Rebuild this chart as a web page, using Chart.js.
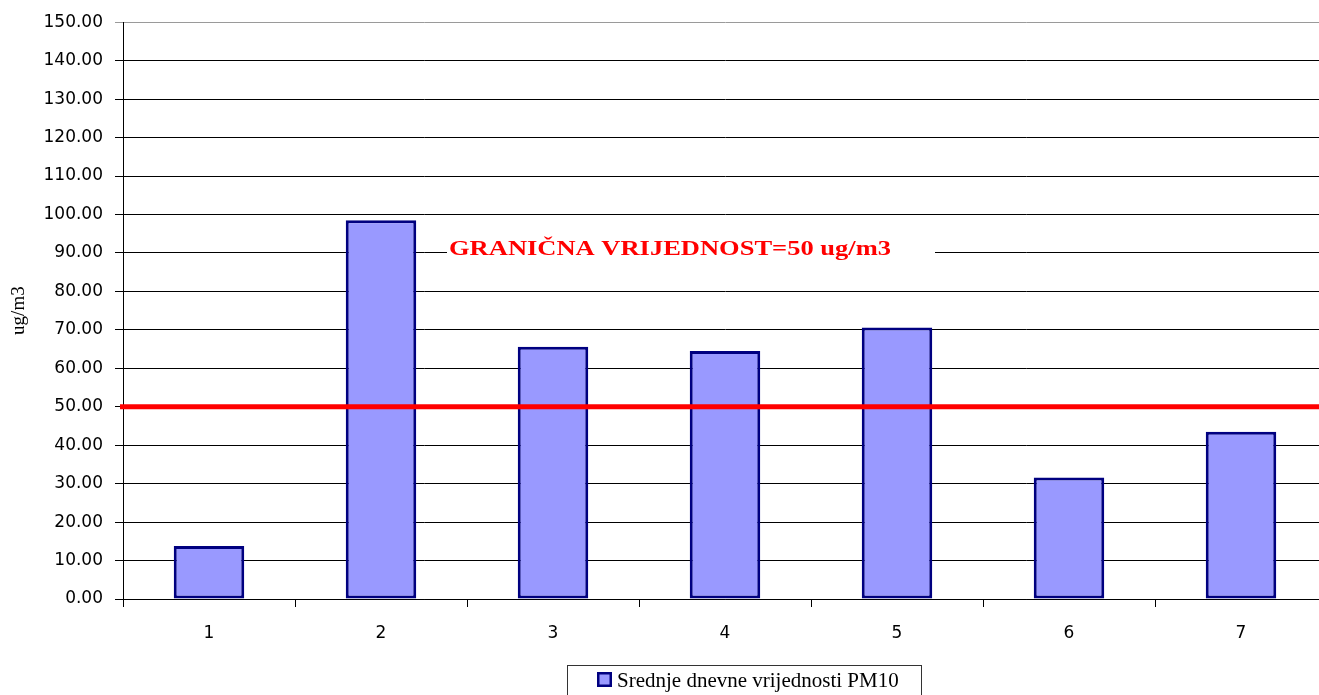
<!DOCTYPE html>
<html>
<head>
<meta charset="utf-8">
<script src="https://cdn.jsdelivr.net/npm/chart.js@4/dist/chart.umd.min.js"></script>
<style>
  html, body { margin: 0; padding: 0; background: #fff; overflow: hidden; }
  #wrap { width: 1319px; height: 695px; overflow: hidden; position: relative; }
  canvas { position: absolute; left: 0; top: 0; }
</style>
</head>
<body>
<div id="wrap"><canvas id="c" width="1330" height="712" style="width:1330px;height:712px"></canvas></div>
<script>
// ---- data ----
const categories = ['1', '2', '3', '4', '5', '6', '7'];
const pm10Values = [13.8, 98.5, 65.6, 64.5, 70.6, 31.6, 43.5];
const seriesLabel = 'Srednje dnevne vrijednosti PM10';
const limitValue = 50;
const limitLabel = 'GRANIČNA VRIJEDNOST=50 ug/m3';
const yAxisTitle = 'ug/m3';
const yMin = 0, yMax = 150, yStep = 10;

const SERIF = '"Liberation Serif", "Times New Roman", serif';
const SANS = '"DejaVu Sans", Verdana, sans-serif';

const limitPlugin = {
  id: 'limitLine',
  afterDatasetsDraw(chart) {
    const { ctx, chartArea, scales } = chart;
    const y = scales.y.getPixelForValue(limitValue);
    ctx.save();
    ctx.strokeStyle = '#FF0000';
    ctx.lineWidth = 5;
    ctx.beginPath();
    ctx.moveTo(chartArea.left - 3, y);
    ctx.lineTo(chartArea.right, y);
    ctx.stroke();

    // annotation label sitting on the 90 gridline
    const yLab = scales.y.getPixelForValue(90);
    ctx.fillStyle = '#FFFFFF';
    ctx.fillRect(447, yLab - 17, 488, 23);
    ctx.font = 'bold 22px ' + SERIF;
    ctx.textBaseline = 'alphabetic';
    ctx.textAlign = 'left';
    const w = ctx.measureText(limitLabel).width;
    const targetW = 442;
    ctx.translate(449, yLab + 2);
    ctx.scale(targetW / w, 1);
    ctx.fillStyle = '#FF0000';
    ctx.fillText(limitLabel, 0, 0);
    ctx.restore();
  }
};

const legendPlugin = {
  id: 'boxLegend',
  afterDraw(chart) {
    const { ctx } = chart;
    const ds = chart.data.datasets[0];
    ctx.save();
    ctx.font = '21px ' + SERIF;
    const left = 567, top = 665;
    const boxW = 354;
    ctx.strokeStyle = '#333333';
    ctx.lineWidth = 1;
    ctx.strokeRect(left + 0.5, top + 0.5, boxW, 60);
    // swatch
    ctx.fillStyle = ds.backgroundColor;
    ctx.fillRect(597, 672, 15, 15);
    ctx.strokeStyle = ds.borderColor;
    ctx.lineWidth = 2.5;
    ctx.strokeRect(598.25, 673.25, 12.5, 12.5);
    ctx.fillStyle = '#000000';
    ctx.textBaseline = 'alphabetic';
    ctx.textAlign = 'left';
    ctx.fillText(ds.label, 617, 687);
    ctx.restore();
  }
};

new Chart(document.getElementById('c'), {
  type: 'bar',
  data: {
    labels: categories,
    datasets: [{
      label: seriesLabel,
      data: pm10Values,
      backgroundColor: '#9999FF',
      borderColor: '#000080',
      borderWidth: 3,
      borderSkipped: false,
      categoryPercentage: 1,
      barPercentage: 0.41
    }]
  },
  options: {
    responsive: false,
    animation: false,
    devicePixelRatio: 1,
    layout: { padding: { top: 22, left: 0, right: 3, bottom: 63 } },
    plugins: {
      legend: { display: false },
      tooltip: { enabled: false }
    },
    scales: {
      x: {
        offset: true,
        grid: {
          offset: true,
          drawOnChartArea: false,
          drawTicks: true,
          tickLength: 8,
          color: '#000000'
        },
        border: { color: '#000000', width: 1 },
        ticks: { font: { family: SANS, size: 17 }, color: '#000000', padding: 16 },
        afterFit(scale) { scale.height = 50; }
      },
      y: {
        min: yMin,
        max: yMax,
        grid: {
          color: (c) => (c.tick && c.tick.value === yMax ? '#9a9a9a' : '#000000'),
          lineWidth: 1,
          drawTicks: true,
          tickLength: 8
        },
        border: { color: '#000000', width: 1 },
        ticks: {
          stepSize: yStep,
          font: { family: SANS, size: 17 },
          color: '#000000',
          padding: 12,
          callback: (v) => Number(v).toFixed(2)
        },
        title: {
          display: true,
          text: yAxisTitle,
          font: { family: SERIF, size: 19 },
          color: '#000000',
          padding: { top: 8, bottom: 0 }
        },
        afterFit(scale) { scale.width = 123; }
      }
    }
  },
  plugins: [limitPlugin, legendPlugin]
});
</script>
</body>
</html>
